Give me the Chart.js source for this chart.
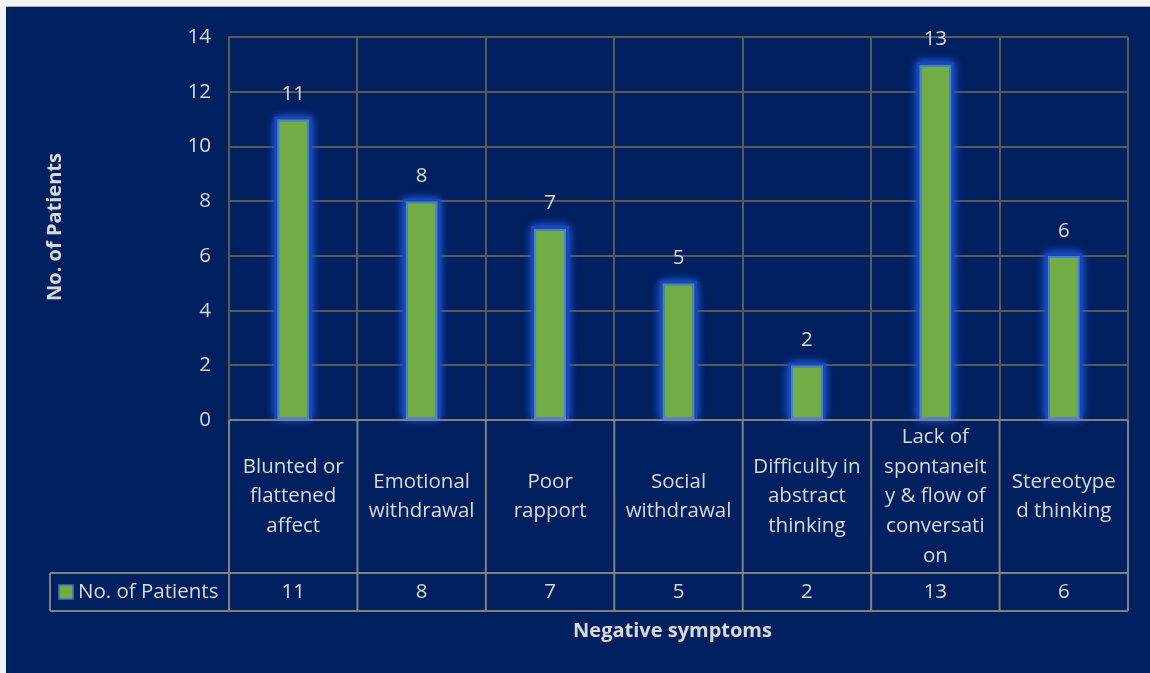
<!DOCTYPE html>
<html>
<head>
<meta charset="utf-8">
<script src="https://cdn.jsdelivr.net/npm/chart.js@4"></script>
<style>
  html, body { margin: 0; padding: 0; background: #f2f2f2; }
  #wrap { position: absolute; left: 6px; top: 7px; width: 1144px; height: 666px; background: #00205f; }
  #wrap:before { content: ""; position: absolute; left: 0; right: 0; top: -1px; height: 1px; background: #b0b0b0; }
</style>
</head>
<body>
<div id="wrap"><canvas id="c" width="1144" height="666"></canvas></div>
<script>
// categories, as wrapped in the table cells
const symptoms = [
  ["Blunted or", "flattened", "affect"],
  ["Emotional", "withdrawal"],
  ["Poor", "rapport"],
  ["Social", "withdrawal"],
  ["Difficulty in", "abstract", "thinking"],
  ["Lack of", "spontaneit", "y & flow of", "conversati", "on"],
  ["Stereotype", "d thinking"]
];
const patients = [11, 8, 7, 5, 2, 13, 6];
const yTicks = [0, 2, 4, 6, 8, 10, 12, 14];

const seriesName = "No. of Patients";
const xTitle = "Negative symptoms";
const yTitle = "No. of Patients";

const txtColor = "#d9d9d9";
const fontFam = "'Open Sans', Lato, sans-serif";
const fs = 20.5;

// blue glow behind the bars (bar element clips its own shadow, so paint it first)
const glow = {
  id: "glow",
  beforeDatasetsDraw(chart) {
    const ctx = chart.ctx;
    ctx.save();
    ctx.fillStyle = "#1a48b0";
    ctx.shadowColor = "rgba(30,85,215,1)";
    ctx.shadowBlur = 9;
    chart.getDatasetMeta(0).data.forEach(b => {
      const w = b.width + 5;
      ctx.fillRect(b.x - w / 2, b.y - 2.5, w, b.base - b.y + 2.5);
      ctx.fillRect(b.x - w / 2, b.y - 2.5, w, b.base - b.y + 2.5);
    });
    ctx.restore();
  }
};

// value labels + data table + axis titles
const table = {
  id: "table",
  afterDraw(chart) {
    const ctx = chart.ctx;
    const x = chart.scales.x;
    const y = chart.scales.y;
    const area = chart.chartArea;
    const n = patients.length;
    const cw = (area.right - area.left) / n;

    ctx.save();
    ctx.fillStyle = txtColor;
    ctx.textAlign = "center";
    ctx.textBaseline = "middle";
    ctx.font = fs + "px " + fontFam;

    // labels above bars
    patients.forEach((v, i) => {
      ctx.fillText(String(v), x.getPixelForValue(i), y.getPixelForValue(v) - 25);
    });

    const rowTop = area.bottom;
    const rowMid = rowTop + 153;
    const rowBot = rowMid + 38;
    const legLeft = 44;

    ctx.strokeStyle = "#808080";
    ctx.lineWidth = 2;
    ctx.beginPath();
    for (let i = 0; i <= n; i++) {
      const xx = area.left + i * cw;
      ctx.moveTo(xx, rowTop);
      ctx.lineTo(xx, rowBot);
    }
    ctx.moveTo(area.left, rowTop);
    ctx.lineTo(area.right, rowTop);
    ctx.moveTo(legLeft, rowMid);
    ctx.lineTo(area.right, rowMid);
    ctx.moveTo(legLeft, rowBot);
    ctx.lineTo(area.right, rowBot);
    ctx.moveTo(legLeft, rowMid);
    ctx.lineTo(legLeft, rowBot);
    ctx.stroke();

    // category names
    const lh = 29.6;
    const cy = (rowTop + rowMid) / 2;
    symptoms.forEach((lines, i) => {
      const cx = x.getPixelForValue(i);
      const y0 = cy - (lines.length - 1) * lh / 2;
      lines.forEach((t, k) => ctx.fillText(t, cx, y0 + k * lh));
    });

    // values row
    const vy = (rowMid + rowBot) / 2;
    patients.forEach((v, i) => ctx.fillText(String(v), x.getPixelForValue(i), vy));

    // legend key
    ctx.fillStyle = "#70ad47";
    ctx.fillRect(53, vy - 7, 14, 14);
    ctx.strokeStyle = "#4472c4";
    ctx.lineWidth = 1.5;
    ctx.strokeRect(53, vy - 7, 14, 14);
    ctx.fillStyle = txtColor;
    ctx.textAlign = "left";
    ctx.fillText(seriesName, 72, vy);

    // axis titles
    ctx.font = "bold 20px " + fontFam;
    ctx.textAlign = "center";
    ctx.fillText(xTitle, (area.left + area.right) / 2 - 6, 624);
    ctx.translate(49, 220);
    ctx.rotate(-Math.PI / 2);
    ctx.fillText(yTitle, 0, 0);
    ctx.restore();
  }
};

new Chart(document.getElementById("c"), {
  type: "bar",
  data: {
    labels: symptoms,
    datasets: [{
      label: seriesName,
      data: patients,
      backgroundColor: "#70ad47",
      borderColor: "#4a7fe0",
      borderWidth: 2,
      borderSkipped: false,
      barPercentage: 0.5,
      categoryPercentage: 0.5
    }]
  },
  options: {
    responsive: false,
    animation: false,
    layout: { padding: { left: 0, right: 22, top: 26, bottom: 253 } },
    plugins: { legend: { display: false }, tooltip: { enabled: false } },
    scales: {
      x: {
        ticks: { display: false },
        grid: { color: "#595959", lineWidth: 2, drawTicks: false, offset: true },
        border: { color: "#595959", width: 2 }
      },
      y: {
        min: 0,
        max: 14,
        afterFit(s) { s.width = 223; },
        afterBuildTicks(s) { s.ticks = yTicks.map(v => ({ value: v })); },
        ticks: { color: txtColor, font: { size: fs, family: fontFam }, padding: 18 },
        grid: { color: "#595959", lineWidth: 2, drawTicks: false },
        border: { color: "#595959", width: 2 }
      }
    }
  },
  plugins: [glow, table]
});
</script>
</body>
</html>
